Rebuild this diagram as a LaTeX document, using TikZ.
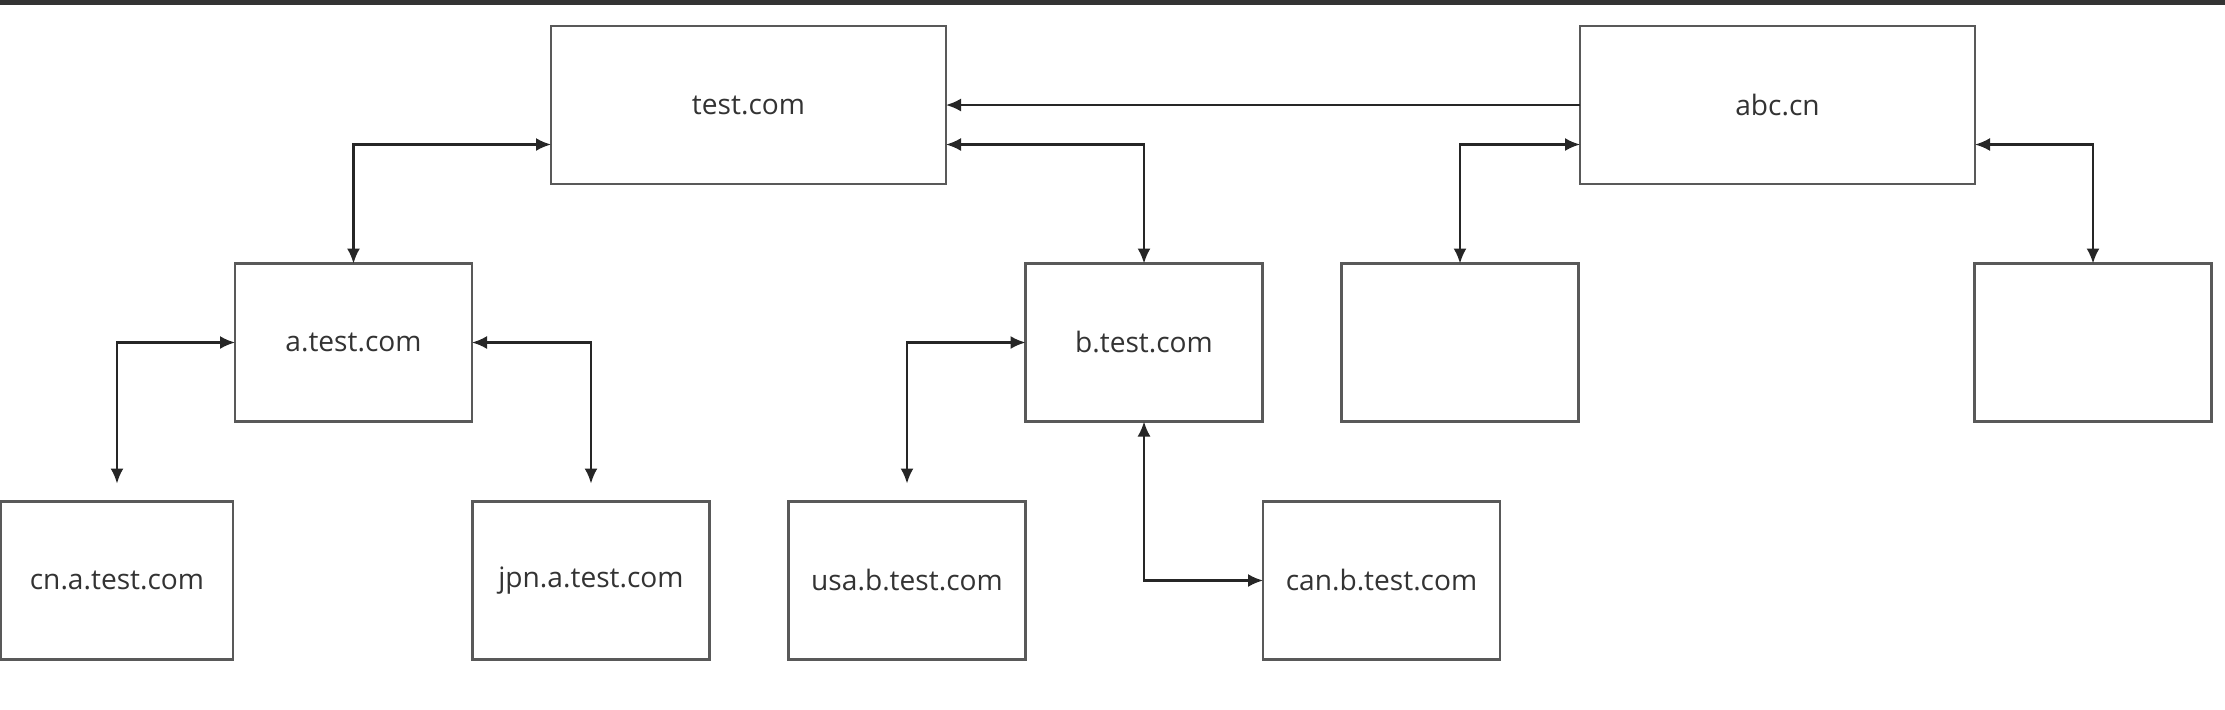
\documentclass[tikz,border=0pt]{standalone}
\usepackage{fontspec}
\setmainfont{Open Sans}
\usetikzlibrary{arrows.meta, calc}

\begin{document}
\begin{tikzpicture}[
        hostbox/.style = {draw = black!65, line width = 0.6pt, fill = white, text = black!80,
                          inner sep = 0pt, outer sep = 0pt, font = \fontsize{8}{10}\selectfont,
                          minimum width = 2.37cm, minimum height = 1.58cm},
        tophostbox/.style = {hostbox, minimum width = 3.95cm},
        link/.style = {draw = black!85, line width = 0.6pt, {Latex[length = 1.5mm, width = 1.3mm]}-{Latex[length = 1.5mm, width = 1.3mm]}},
        onelink/.style = {draw = black!85, line width = 0.6pt, -{Latex[length = 1.5mm, width = 1.3mm]}}
    ]
                \useasboundingbox (0, 0) rectangle (22.25, 7.09);
                \fill[black!80] (0, 7.04) rectangle (22.25, 7.09);
                % top row
                \node[tophostbox] (test) at (7.485, 6.04) {test.com};
                \node[tophostbox] (abc) at (17.775, 6.04) {abc.cn};
                % middle row
                \node[hostbox] (atest) at (3.535, 3.665) {a.test.com};
                \node[hostbox] (btest) at (11.44, 3.665) {b.test.com};
                \node[hostbox] (abcleft) at (14.60, 3.665) {};
                \node[hostbox] (abcright) at (20.93, 3.665) {};
                % bottom row
                \node[hostbox, minimum width = 2.32cm] (cna) at (1.17, 1.285) {cn.a.test.com};
                \node[hostbox] (jpna) at (5.91, 1.285) {jpn.a.test.com};
                \node[hostbox] (usab) at (9.07, 1.285) {usa.b.test.com};
                \node[hostbox] (canb) at (13.815, 1.285) {can.b.test.com};
                % connectors
                \draw[onelink] (abc.west) -- (test.east);
                \draw[link] ($(test.west)!0.5!(test.south west)$) -| (atest.north);
                \draw[link] ($(test.east)!0.5!(test.south east)$) -| (btest.north);
                \draw[link] ($(abc.west)!0.5!(abc.south west)$) -| (abcleft.north);
                \draw[link] ($(abc.east)!0.5!(abc.south east)$) -| (abcright.north);
                \draw[link, shorten >= 0.18cm] (atest.west) -| (cna.north);
                \draw[link, shorten >= 0.18cm] (atest.east) -| (jpna.north);
                \draw[link, shorten >= 0.18cm] (btest.west) -| (usab.north);
                \draw[link] (btest.south) |- (canb.west);
            \end{tikzpicture}
\end{document}
